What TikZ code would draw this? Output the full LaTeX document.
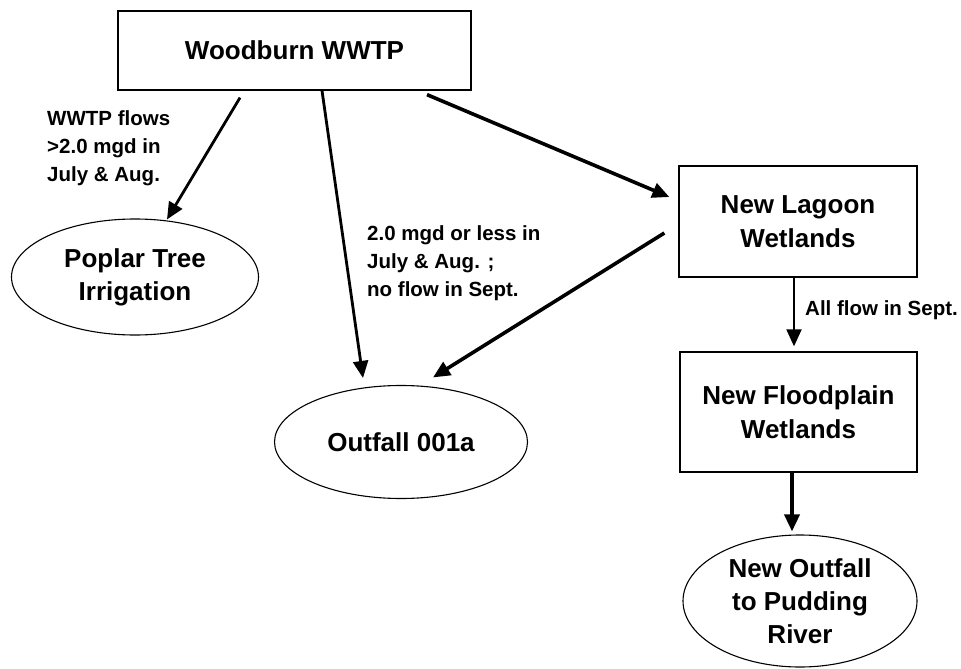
\documentclass[tikz,border=0pt]{standalone}
\usepackage{fontspec}
\setmainfont{Liberation Sans}
\usetikzlibrary{arrows.meta,shapes.geometric,calc}
\begin{document}
\begin{tikzpicture}[x=1pt,y=-1pt,
  boxnode/.style={draw,line width=1.3pt,rectangle,inner sep=0pt,align=center,
     font=\fontsize{26}{34}\selectfont\bfseries},
  ellnode/.style={draw,line width=1.1pt,ellipse,inner sep=0pt,align=center,
     font=\fontsize{26}{33}\selectfont\bfseries},
  lbl/.style={inner sep=0pt,align=left,anchor=west,
     font=\fontsize{20.5}{28}\selectfont\bfseries},
  flow/.style={-{Triangle[length=17pt,width=15pt]},line width=#1},
  flow/.default=3pt]
\useasboundingbox (0,0) rectangle (961,669);
\node[boxnode,minimum width=353,minimum height=79] (wwtp) at (294.5,50.5) {Woodburn WWTP};
\node[boxnode,minimum width=238,minimum height=111] (lagoon) at (798,221.5) {New Lagoon\\Wetlands};
\node[boxnode,minimum width=237,minimum height=120] (flood) at (798.5,412) {New Floodplain\\Wetlands};
\node[ellnode,minimum width=247,minimum height=116] (poplar) at (135,277) {Poplar Tree\\Irrigation};
\node[ellnode,minimum width=253,minimum height=113] (outfall) at (401,442) {Outfall 001a};
\node[ellnode,minimum width=234,minimum height=132] (newout) at (800,601) {New Outfall\\to Pudding\\River};
\node[lbl] (l1) at (47,148) {WWTP flows\\>2.0 mgd in\\July \& Aug.};
\node[lbl] (l2) at (367,263.5) {2.0 mgd or less in\\July \& Aug. ;\\no flow in Sept.};
\node[lbl] (l3) at (805,310) {All flow in Sept.};
\draw[flow=2.8pt] ($(wwtp.south)+(-54.5,7)$) -- ($(poplar.north)+(32,1)$);
\draw[flow=2.8pt] ($(wwtp.south)+(27.5,0)$) -- ($(outfall.north)+(-38,-7)$);
\draw[flow=3.6pt] ($(wwtp.south)+(132.5,4)$) -- ($(lagoon.west)+(-9,-24.5)$);
\draw[flow=3.6pt] ($(lagoon.west)+(-14,11.5)$) -- ($(outfall.north)+(32,-7.5)$);
\draw[flow=2pt] ($(lagoon.south)+(-4,0)$) -- ($(flood.north)+(-4.5,-5)$);
\draw[flow=3.6pt] ($(flood.south)+(-6.5,0)$) -- ($(newout.north)+(-8,-3)$);
\end{tikzpicture}
\end{document}
